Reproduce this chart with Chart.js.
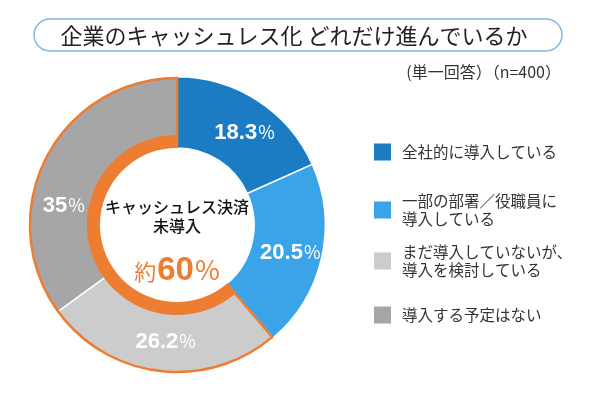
<!DOCTYPE html>
<html lang="ja">
<head>
<meta charset="utf-8">
<script src="https://cdn.jsdelivr.net/npm/chart.js@4.4.0/dist/chart.umd.min.js"></script>
<style>
html, body { margin: 0; padding: 0; background: #fff; }
#wrap { width: 590px; height: 413px; }
</style>
</head>
<body>
<div id="wrap"><canvas id="myChart" width="590" height="413"></canvas></div>
<script>
'use strict';
// data
let titleText = '企業のキャッシュレス化 どれだけ進んでいるか';
let noteText = '(単一回答）（n=400）';
let categories = ['全社的に導入している', '一部の部署／役職員に\n導入している', 'まだ導入していないが、\n導入を検討している', '導入する予定はない'];
let values = [18.3, 20.5, 26.2, 35];
let notAdopted = [false, false, true, true];
let centerLines = ['キャッシュレス決済', '未導入'];
let centerPrefix = '約';
let centerValue = '60';

// styles
let colors = ['#1b7cc4', '#3ba4e9', '#cccccc', '#a6a6a6'];
let orange = '#ed7d31';
let jpFont = '"Noto Sans CJK JP", "Noto Sans", sans-serif';
let numFont = '"Liberation Sans", Arial, sans-serif';
let legendY = [152, 210, 261, 315];
let labelNudge = [2.5, 0, -1, -16.5];

function drawPct(ctx, num, x, y, numSize, pctSize, color) {
    ctx.font = 'bold ' + numSize + 'px ' + numFont;
    let w1 = ctx.measureText(num).width;
    ctx.font = pctSize + 'px ' + jpFont;
    let w2 = ctx.measureText('%').width;
    let sx = x - (w1 + w2) / 2;
    ctx.fillStyle = color;
    ctx.textAlign = 'left';
    ctx.textBaseline = 'alphabetic';
    ctx.font = 'bold ' + numSize + 'px ' + numFont;
    ctx.fillText(num, sx, y);
    ctx.font = pctSize + 'px ' + jpFont;
    ctx.fillText('%', sx + w1 + 1, y);
}

let extras = {
    id: 'extras',
    beforeDraw(chart) {
        let ctx = chart.ctx;
        ctx.save();
        ctx.fillStyle = '#fff';
        ctx.fillRect(0, 0, chart.width, chart.height);
        // title pill
        ctx.beginPath();
        ctx.roundRect(34, 19, 528, 32, 16);
        ctx.strokeStyle = '#80b6e4';
        ctx.lineWidth = 1.5;
        ctx.stroke();
        ctx.fillStyle = '#222';
        ctx.font = '22px ' + jpFont;
        ctx.textAlign = 'center';
        ctx.textBaseline = 'middle';
        ctx.fillText(titleText, 294, 36);
        ctx.font = '16px ' + jpFont;
        ctx.textAlign = 'right';
        ctx.fillStyle = '#333';
        ctx.fillText(noteText, 561, 72);
        ctx.restore();
    },
    afterDatasetsDraw(chart) {
        let ctx = chart.ctx;
        let arcs = chart.getDatasetMeta(0).data;
        let first = notAdopted.indexOf(true);
        let last = notAdopted.lastIndexOf(true);
        let a0 = arcs[first], a1 = arcs[last];
        let cx = a0.x, cy = a0.y;
        let rIn = a0.innerRadius, rOut = a0.outerRadius;
        ctx.save();
        ctx.strokeStyle = orange;
        // thick inner ring
        ctx.lineWidth = 13;
        ctx.beginPath();
        ctx.arc(cx, cy, rIn + 6.5, a0.startAngle, a1.endAngle);
        ctx.stroke();
        // outline
        ctx.lineWidth = 2.5;
        ctx.beginPath();
        ctx.arc(cx, cy, rOut - 1.2, a0.startAngle, a1.endAngle);
        ctx.stroke();
        [a0.startAngle, a1.endAngle].forEach(function (ang) {
            ctx.beginPath();
            ctx.moveTo(cx + rIn * Math.cos(ang), cy + rIn * Math.sin(ang));
            ctx.lineTo(cx + rOut * Math.cos(ang), cy + rOut * Math.sin(ang));
            ctx.stroke();
        });

        // value labels
        arcs.forEach(function (arc, i) {
            let mid = (arc.startAngle + arc.endAngle) / 2 + labelNudge[i] * Math.PI / 180;
            let r = (arc.innerRadius + arc.outerRadius) / 2 + 3;
            let lx = cx + r * Math.cos(mid);
            let ly = cy + r * Math.sin(mid);
            drawPct(ctx, String(values[i]), lx, ly + 8, 22, 18, '#fff');
        });

        // center text
        ctx.fillStyle = '#111';
        ctx.font = '500 16px ' + jpFont;
        ctx.textAlign = 'center';
        ctx.textBaseline = 'middle';
        centerLines.forEach(function (t, i) {
            ctx.fillText(t, cx, 207 + i * 19);
        });
        ctx.font = '22px ' + jpFont;
        let wp = ctx.measureText(centerPrefix).width;
        ctx.font = 'bold 33px ' + numFont;
        let wv = ctx.measureText(centerValue).width;
        ctx.font = '27px ' + jpFont;
        let wc = ctx.measureText('%').width;
        let sx = cx - (wp + wv + wc + 2) / 2;
        ctx.fillStyle = orange;
        ctx.textAlign = 'left';
        ctx.textBaseline = 'alphabetic';
        ctx.font = '22px ' + jpFont;
        ctx.fillText(centerPrefix, sx, 280);
        ctx.font = 'bold 33px ' + numFont;
        ctx.fillText(centerValue, sx + wp + 1, 280);
        ctx.font = '27px ' + jpFont;
        ctx.fillText('%', sx + wp + wv + 2, 280);

        // legend
        ctx.textBaseline = 'middle';
        ctx.font = '15.5px ' + jpFont;
        categories.forEach(function (c, i) {
            ctx.fillStyle = colors[i];
            ctx.fillRect(374, legendY[i] - 8.5, 17, 17);
            ctx.fillStyle = '#333';
            let lines = c.split('\n');
            lines.forEach(function (ln, j) {
                let y = legendY[i] + (j - (lines.length - 1) / 2) * 18;
                ctx.fillText(ln, 402, y);
            });
        });
        ctx.restore();
    }
};

let ctx = document.getElementById('myChart').getContext('2d');
let myChart = new Chart(ctx, {
    type: 'doughnut',
    data: {
        labels: categories,
        datasets: [{
            data: values,
            backgroundColor: colors,
            borderColor: '#fff',
            borderWidth: 1.5
        }]
    },
    options: {
        responsive: false,
        animation: false,
        events: [],
        cutout: '52%',
        layout: { padding: { left: 28, top: 76, right: 264, bottom: 39 } },
        plugins: {
            legend: { display: false },
            tooltip: { enabled: false }
        }
    },
    plugins: [extras]
});
</script>
</body>
</html>
